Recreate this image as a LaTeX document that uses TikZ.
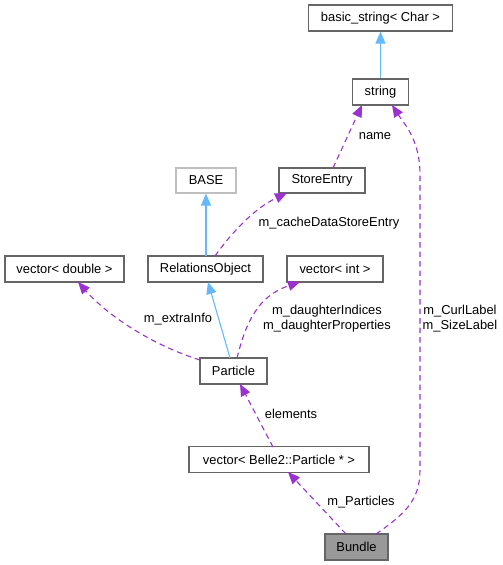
\documentclass[tikz,border=0pt]{standalone}
\usepackage{fontspec}
\setmainfont{Liberation Sans}
\usetikzlibrary{arrows.meta}
\definecolor{edgeblue}{HTML}{63B8FF}
\definecolor{edgepurple}{HTML}{9A32CD}
\definecolor{boxborder}{HTML}{666666}
\definecolor{baseborder}{HTML}{BFBFBF}
\definecolor{bundlefill}{HTML}{999999}
\begin{document}
\begin{tikzpicture}[x=1pt,y=-1pt,
  font=\fontsize{12.9}{15}\selectfont,
  cls/.style={draw=boxborder,line width=1.2pt,fill=white,inner sep=0pt,minimum height=26pt,text=black},
  inherit/.style={draw=edgeblue,line width=1.1pt,-{Triangle[length=12pt,width=10pt]}},
  usage/.style={draw=edgepurple,line width=1.1pt,dash pattern=on 5.5pt off 4pt,-{Triangle[length=12pt,width=10pt]}},
  lbl/.style={inner sep=0pt,align=center,text=black}]
\useasboundingbox (0,0) rectangle (503,565);
\node[cls,minimum width=144pt] (basic) at (380.5,18) {basic\_string< Char >};
\node[cls,minimum width=56pt] (string) at (380.5,92) {string};
\node[cls,draw=baseborder,minimum width=60pt,minimum height=25pt] (base) at (206,180.5) {BASE};
\node[cls,minimum width=86pt,minimum height=25pt] (store) at (322,180.5) {StoreEntry};
\node[cls,minimum width=115pt] (rel) at (205.5,269) {RelationsObject};
\node[cls,minimum width=96pt] (vint) at (335,269) {vector< int >};
\node[cls,minimum width=119pt] (vdouble) at (64.5,269) {vector< double >};
\node[cls,minimum width=67pt] (particle) at (233.5,371) {Particle};
\node[cls,minimum width=180pt] (vbelle) at (279,459.5) {vector< Belle2::Particle * >};
\node[cls,fill=bundlefill,minimum width=63pt] (bundle) at (356.5,547) {Bundle};

\coordinate (stringL) at (362,105);
\coordinate (stringR) at (392,105);
\coordinate (storeT) at (333,168);
\coordinate (storeB) at (287,193);
\coordinate (relT) at (215,256);
\coordinate (relB) at (208,282);
\coordinate (partT) at (230,358);
\coordinate (partTR) at (237,358);
\coordinate (partL) at (200,360);
\coordinate (partB) at (240,384);
\coordinate (vdoubleB) at (78,282);
\coordinate (vintB) at (300,282);
\coordinate (vbelleT) at (273,447);
\coordinate (vbelleB) at (288,472);
\coordinate (bundleT) at (346,534);
\coordinate (bundleTR) at (376,534);

\draw[inherit] (string.north) -- (basic.south);
\draw[usage] (storeT) -- (stringL);
\node[lbl] (lname) at (375,136) {name};
\draw[usage] (bundleTR) .. controls (405,514) and (420,500) .. (420,470) -- (420,175) .. controls (420,140) and (405,125) .. (stringR);
\node[lbl] (lcurl) at (460,318.5) {m\_CurlLabel\\m\_SizeLabel};
\draw[inherit] (base.south |- relT) -- (base.south);
\draw[usage] (relT) .. controls (232,232) and (255,208) .. (storeB);
\node[lbl] (lcache) at (329,223) {m\_cacheDataStoreEntry};
\draw[inherit] (partT) -- (relB);
\draw[usage] (partL) .. controls (155,346) and (110,318) .. (vdoubleB);
\node[lbl] (lextra) at (178,319) {m\_extraInfo};
\draw[usage] (partTR) .. controls (246,322) and (258,296) .. (vintB);
\node[lbl] (ldaught) at (327,318.5) {m\_daughterIndices\\m\_daughterProperties};
\draw[usage] (vbelleT) -- (partB);
\node[lbl] (lelem) at (291,414) {elements};
\draw[usage] (bundleT) -- (vbelleB);
\node[lbl] (lpart) at (361,502) {m\_Particles};
\end{tikzpicture}
\end{document}
